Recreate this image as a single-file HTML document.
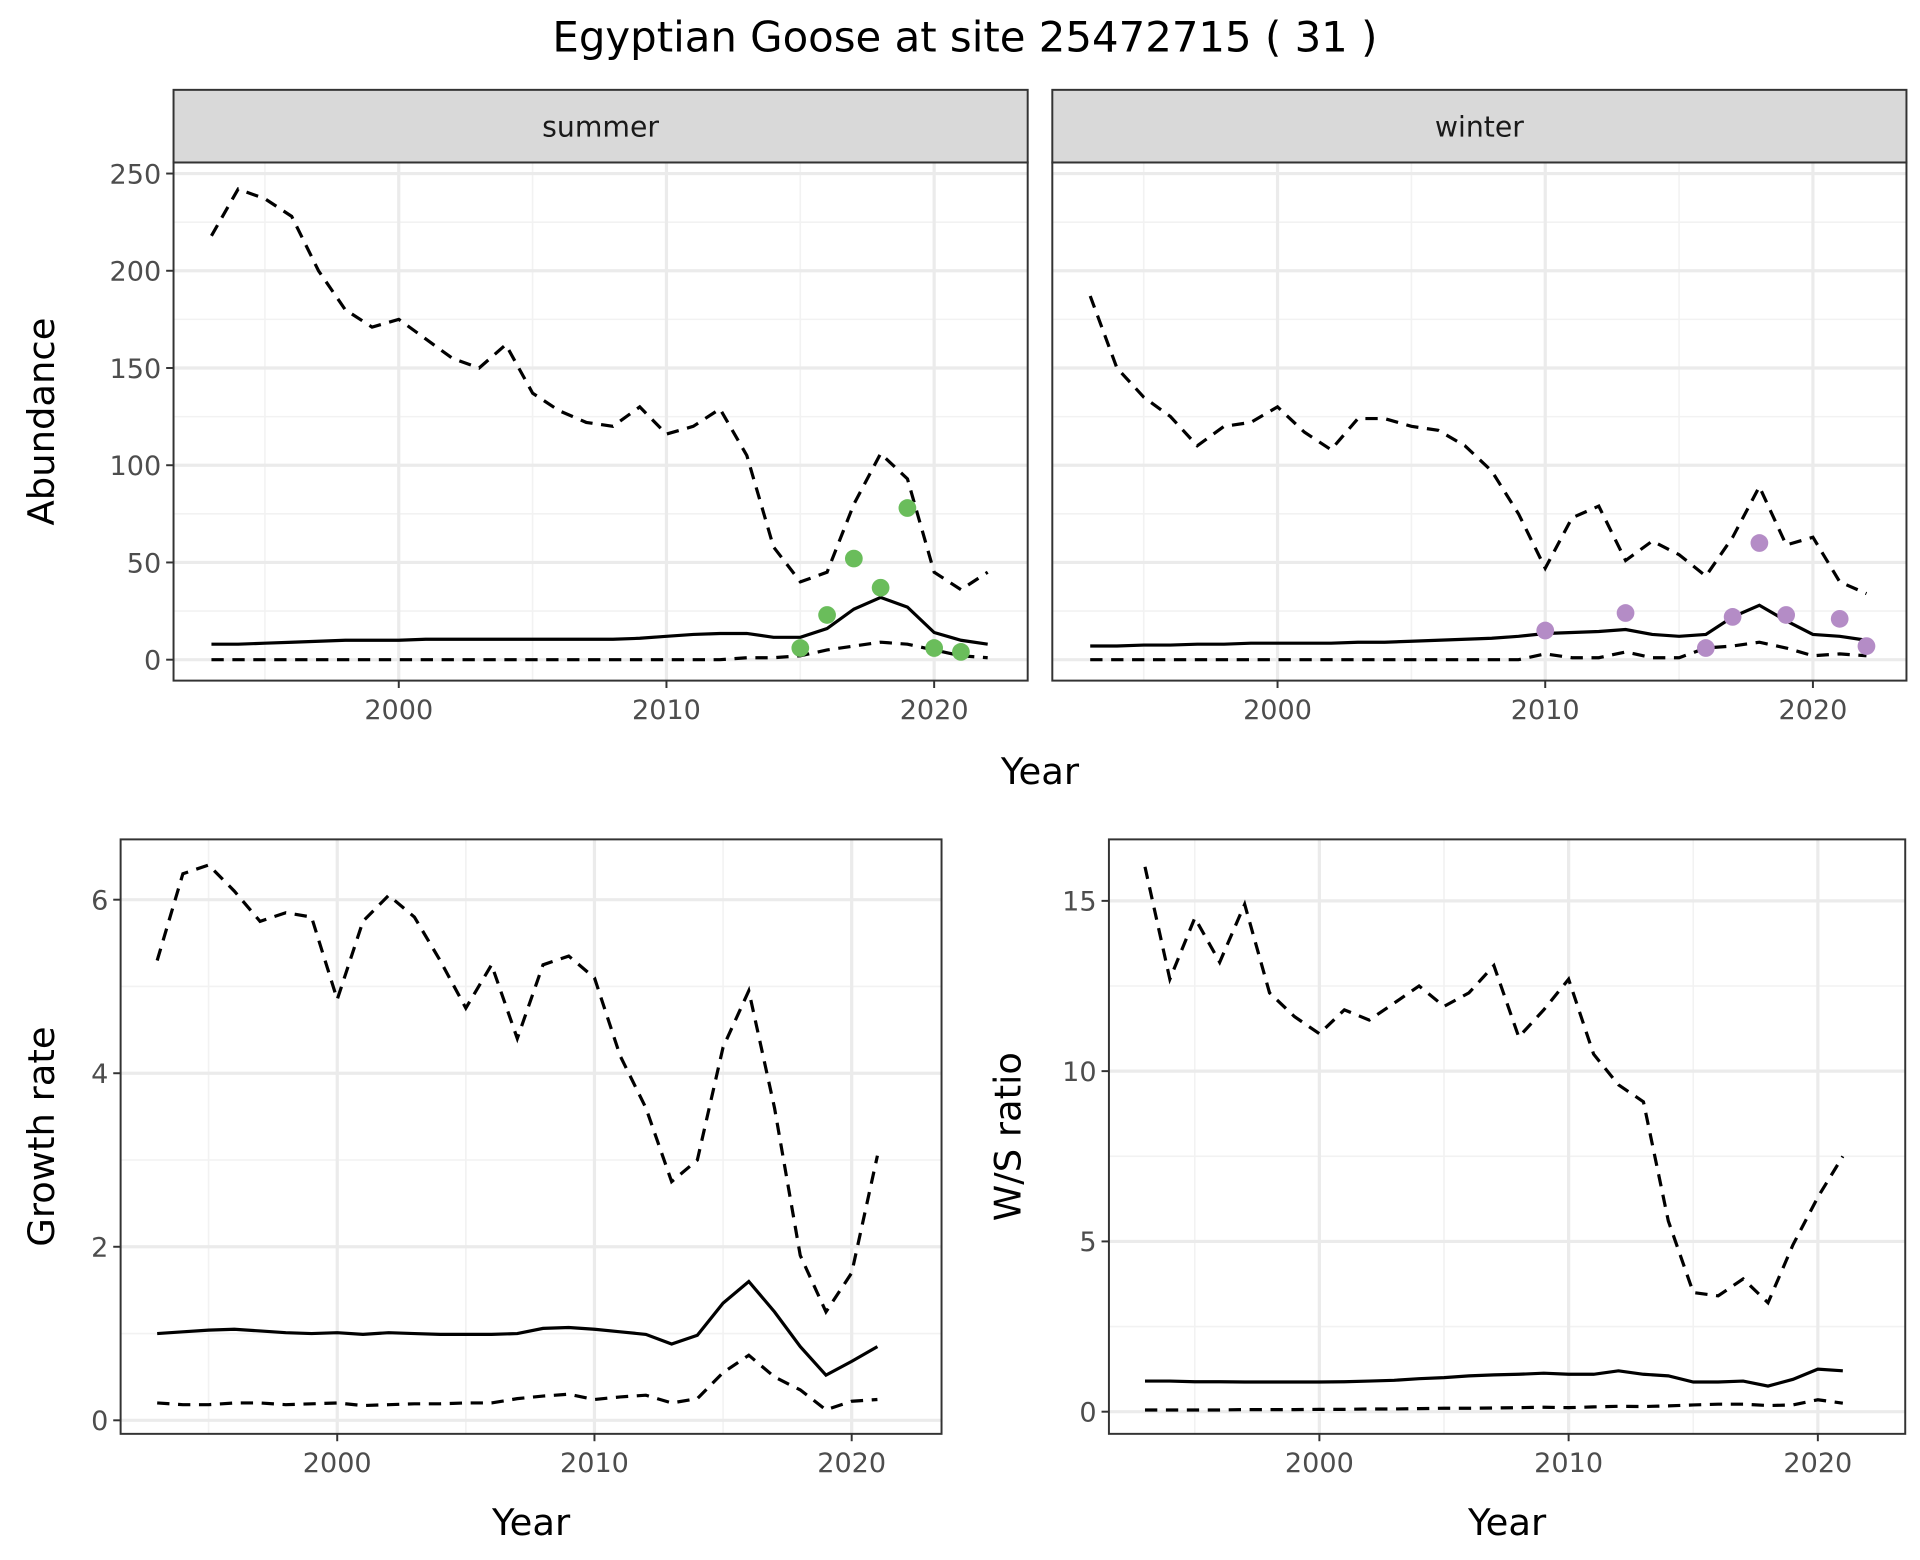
<!DOCTYPE html>
<html><head><meta charset="utf-8"><style>body{margin:0;background:#fff}svg{display:block}text{font-family:"DejaVu Sans","Liberation Sans",sans-serif}</style></head>
<body>
<svg id="c" width="1920" height="1560" viewBox="0 0 1560 1267.5" xmlns="http://www.w3.org/2000/svg">
<text x="784" y="42" font-size="34" text-anchor="middle">Egyptian Goose at site 25472715 ( 31 )</text>
</svg>
<script>
const years = [1993,1994,1995,1996,1997,1998,1999,2000,2001,2002,2003,2004,2005,2006,2007,2008,2009,2010,2011,2012,2013,2014,2015,2016,2017,2018,2019,2020,2021,2022];
const summerUpper = [218,242,237,228,200,180,171,175,165,155,150,162,137,128,122,120,130,116,120,129,105,58,40,45,80,106,93,45,36,45];
const summerMid = [8,8,8.5,9,9.5,10,10,10,10.5,10.5,10.5,10.5,10.5,10.5,10.5,10.5,11,12,13,13.5,13.5,11.5,11.5,16,26,32,27,14,10,8];
const summerLow = [0,0,0,0,0,0,0,0,0,0,0,0,0,0,0,0,0,0,0,0,1,1,2,5,7,9,8,5,2,1];
const summerPtYears = [2015,2016,2017,2018,2019,2020,2021];
const summerPts = [6,23,52,37,78,6,4];
const winterUpper = [187,150,135,125,110,120,122,130,117,108,124,124,120,118,110,97,75,47,73,79,51,61,54,43,63,89,59,63,40,34];
const winterMid = [7,7,7.5,7.5,8,8,8.5,8.5,8.5,8.5,9,9,9.5,10,10.5,11,12,13.5,14,14.5,15.5,13,12,13,22,28,20,13,12,10];
const winterLow = [0,0,0,0,0,0,0,0,0,0,0,0,0,0,0,0,0,3,1,1,4,1,1,6,7,9,6,2,3,2];
const winterPtYears = [2010,2013,2016,2017,2018,2019,2021,2022];
const winterPts = [15,24,6,22,60,23,21,7];
const years2 = years.slice(0,29);
const growthUpper = [5.3,6.3,6.4,6.1,5.75,5.85,5.8,4.85,5.75,6.05,5.8,5.3,4.75,5.25,4.4,5.25,5.35,5.1,4.2,3.6,2.75,3.0,4.3,4.95,3.6,1.9,1.25,1.7,3.05];
const growthMid = [1.0,1.02,1.04,1.05,1.03,1.01,1.0,1.01,0.99,1.01,1.0,0.99,0.99,0.99,1.0,1.06,1.07,1.05,1.02,0.99,0.88,0.98,1.35,1.6,1.25,0.85,0.52,0.68,0.85];
const growthLow = [0.2,0.18,0.18,0.2,0.2,0.18,0.19,0.2,0.17,0.18,0.19,0.19,0.2,0.2,0.25,0.28,0.3,0.24,0.27,0.29,0.2,0.25,0.55,0.75,0.5,0.35,0.12,0.22,0.24];
const wsUpper = [16,12.7,14.5,13.2,14.9,12.3,11.6,11.1,11.8,11.5,12,12.5,11.9,12.3,13.1,11,11.8,12.7,10.5,9.6,9.1,5.6,3.5,3.4,3.9,3.2,4.9,6.3,7.5];
const wsMid = [0.9,0.9,0.88,0.88,0.87,0.87,0.87,0.87,0.88,0.9,0.92,0.97,1.0,1.05,1.08,1.1,1.13,1.1,1.1,1.2,1.1,1.05,0.87,0.87,0.9,0.75,0.95,1.25,1.2];
const wsLow = [0.05,0.05,0.05,0.05,0.06,0.06,0.06,0.07,0.07,0.08,0.08,0.09,0.1,0.1,0.11,0.12,0.13,0.12,0.14,0.16,0.15,0.17,0.2,0.22,0.22,0.18,0.2,0.35,0.25];
const abTicks = [0,50,100,150,200,250];
const abMinor = [25,75,125,175,225];
const grTicks = [0,2,4,6];
const grMinor = [1,3,5];
const wsTicks = [0,5,10,15];
const wsMinor = [2.5,7.5,12.5];
const xTicks = [2000,2010,2020];
const xMinor = [1995,2005,2015];

const svg = document.getElementById('c');
const NS = 'http://www.w3.org/2000/svg';
function mk(tag, attrs, parent) {
  const e = document.createElementNS(NS, tag);
  for (const k in attrs) e.setAttribute(k, attrs[k]);
  (parent || svg).appendChild(e);
  return e;
}
function panel(p) {
  const g = mk('g', {});
  
  
  const sx = v => p.x0 + (v - p.xa) * p.xs;
  const sy = v => p.y0 - (v - p.ya) * p.ys;
  const bg = mk('rect', {x:p.L, y:p.T, width:p.R-p.L, height:p.B-p.T, fill:'#fff'}, g);
  
  
  p.yMinor.forEach(v => mk('line', {x1:p.L, x2:p.R, y1:sy(v), y2:sy(v), stroke:'#f2f2f2', 'stroke-width':1.3}, g));
  xMinor.forEach(v => mk('line', {x1:sx(v), x2:sx(v), y1:p.T, y2:p.B, stroke:'#f2f2f2', 'stroke-width':1.3}, g));
  p.yTicks.forEach(v => mk('line', {x1:p.L, x2:p.R, y1:sy(v), y2:sy(v), stroke:'#ebebeb', 'stroke-width':2.6}, g));
  xTicks.forEach(v => mk('line', {x1:sx(v), x2:sx(v), y1:p.T, y2:p.B, stroke:'#ebebeb', 'stroke-width':2.6}, g));
  const series = [[p.up, true], [p.mid, false], [p.low, true]];
  series.forEach(([arr, dash], i) => {
    const d = arr.map((v, j) => (j ? 'L' : 'M') + sx(p.yrs[j]).toFixed(1) + ',' + sy(v).toFixed(1)).join('');
    const path = mk('path', {d:d, fill:'none', stroke:'#000', 'stroke-width':2.6, 'stroke-dasharray': dash ? '10,7' : 'none'}, g);
    
    
  });
  if (p.pts) p.pts.forEach((v, j) => {
    const c = mk('circle', {cx:sx(p.ptYears[j]), cy:sy(v), r:7.2, fill:p.ptColor}, g);
    
    
  });
  mk('rect', {x:p.L, y:p.T, width:p.R-p.L, height:p.B-p.T, fill:'none', stroke:'#333', 'stroke-width':1.6}, g);
  if (p.strip) {
    const s = mk('rect', {x:p.L, y:p.T-59, width:p.R-p.L, height:59, fill:'#d9d9d9', stroke:'#333', 'stroke-width':1.6}, g);
    
    
    const t = mk('text', {x:(p.L+p.R)/2, y:p.T-21, 'font-size':23, 'text-anchor':'middle', fill:'#1a1a1a'}, g);
    t.textContent = p.strip;
    
    
  }
  if (p.yLabels) p.yTicks.forEach(v => {
    mk('line', {x1:p.L-6, x2:p.L, y1:sy(v), y2:sy(v), stroke:'#333', 'stroke-width':1.6}, g);
    const t = mk('text', {x:p.L-10, y:sy(v)+8, 'font-size':22, 'text-anchor':'end', fill:'#4d4d4d'}, g);
    t.textContent = v;
    
    
  });
  xTicks.forEach(v => {
    mk('line', {x1:sx(v), x2:sx(v), y1:p.B, y2:p.B+6, stroke:'#333', 'stroke-width':1.6}, g);
    const t = mk('text', {x:sx(v), y:p.B+31, 'font-size':22, 'text-anchor':'middle', fill:'#4d4d4d'}, g);
    t.textContent = v;
    
    
  });
  if (p.xTitle) {
    const t = mk('text', {x:(p.L+p.R)/2, y:p.B+82, 'font-size':30, 'text-anchor':'middle'}, g);
    t.textContent = 'Year';
    
    
  }
  if (p.yTitle) {
    const cy = (p.T + p.B) / 2;
    const t = mk('text', {x:p.yTx, y:cy, 'font-size':30, 'text-anchor':'middle', transform:'rotate(-90 '+p.yTx+' '+cy+')'}, g);
    t.textContent = p.yTitle;
    
    
  }
}
panel({name:'summer-panel', L:141, R:835, T:132, B:553, x0:324, xa:2000, xs:21.75, y0:536, ya:0, ys:1.58,
  yTicks:abTicks, yMinor:abMinor, yrs:years, up:summerUpper, mid:summerMid, low:summerLow,
  pts:summerPts, ptYears:summerPtYears, ptColor:'#6abd5b', strip:'summer', yLabels:true, yTitle:'Abundance', yTx:44});
panel({name:'winter-panel', L:855, R:1549, T:132, B:553, x0:1038, xa:2000, xs:21.75, y0:536, ya:0, ys:1.58,
  yTicks:abTicks, yMinor:abMinor, yrs:years, up:winterUpper, mid:winterMid, low:winterLow,
  pts:winterPts, ptYears:winterPtYears, ptColor:'#b48cc6', strip:'winter', yLabels:false});
const yt = mk('text', {x:845, y:637, 'font-size':30, 'text-anchor':'middle'});
yt.textContent = 'Year';


panel({name:'growth-rate-panel', L:98, R:765, T:682, B:1165, x0:274, xa:2000, xs:20.9, y0:1154, ya:0, ys:70.5,
  yTicks:grTicks, yMinor:grMinor, yrs:years2, up:growthUpper, mid:growthMid, low:growthLow,
  yLabels:true, yTitle:'Growth rate', yTx:44, xTitle:true});
panel({name:'ws-ratio-panel', L:901, R:1548, T:682, B:1165, x0:1072, xa:2000, xs:20.25, y0:1147, ya:0, ys:27.67,
  yTicks:wsTicks, yMinor:wsMinor, yrs:years2, up:wsUpper, mid:wsMid, low:wsLow,
  yLabels:true, yTitle:'W/S ratio', yTx:829, xTitle:true});
</script>
</body></html>
